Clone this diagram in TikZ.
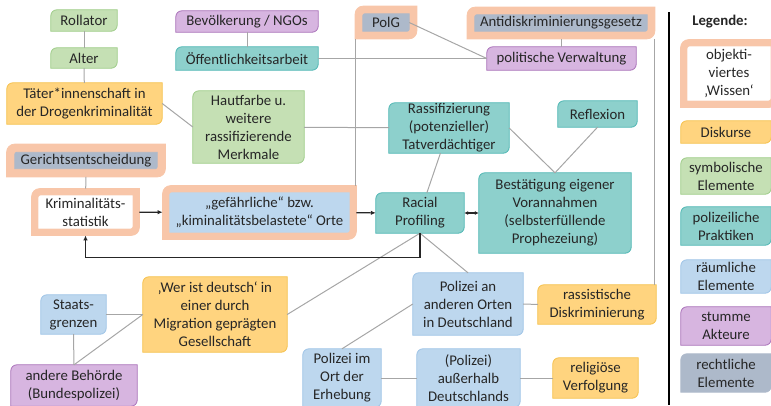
\documentclass[tikz,border=0pt]{standalone}
\usepackage{fontspec}
\setmainfont{Carlito}
\usetikzlibrary{fit,backgrounds,arrows.meta}

\definecolor{gruen}{HTML}{C5E0B4}
\definecolor{gruenR}{HTML}{9CCB86}
\definecolor{lila}{HTML}{D7B5E0}
\definecolor{lilaR}{HTML}{A86FB8}
\definecolor{tuerkis}{HTML}{8DD0CC}
\definecolor{tuerkisR}{HTML}{4DB6B3}
\definecolor{hblau}{HTML}{BDD7EE}
\definecolor{hblauR}{HTML}{9DC3E6}
\definecolor{orange}{HTML}{FFD47F}
\definecolor{orangeR}{HTML}{F5C04A}
\definecolor{grau}{HTML}{ADB9CA}
\definecolor{lachs}{HTML}{F8C6A9}
\definecolor{linie}{HTML}{A6A6A6}

\newcommand{\kasten}[4]{%
  \path[fill=#2,draw=#3,line width=0.8pt] (#1.south west)
    -- ([yshift=-#4]#1.north west) arc[start angle=180,end angle=90,radius=#4]
    -- (#1.north east)
    -- ([yshift=#4]#1.south east) arc[start angle=0,end angle=-90,radius=#4]
    -- cycle;}

\tikzset{
  box/.style={inner sep=0pt,align=center,text=black!85,
    font=\fontsize{14.8}{18}\selectfont},
  rahmen/.style={inner sep=7.5pt},
  verb/.style={draw=linie,line width=1pt},
  pfeil/.style={draw=black!85,line width=1.2pt,-{Latex[length=5pt,width=4.5pt]}},
}

\begin{document}
\begin{tikzpicture}[x=1pt,y=-1pt]
\useasboundingbox (0,0) rectangle (771,405);

\node[box,minimum width=66,minimum height=21] (rollator) at (84,20.5) {Rollator};
\node[box,minimum width=66,minimum height=20] (alter) at (84,58) {Alter};
\node[box,minimum width=155,minimum height=41] (taeter) at (84.5,103.5) {Täter*innenschaft in\\der Drogenkriminalität};
\node[box,minimum width=142,minimum height=21] (bevoelk) at (247,21.5) {Bevölkerung / NGOs};
\node[box,minimum width=142,minimum height=23] (oeffentl) at (247,58.5) {Öffentlichkeitsarbeit};
\node[box,minimum width=111,minimum height=72] (haut) at (248.5,127) {Hautfarbe u.\\weitere\\rassifizierende\\Merkmale};
\node[box,minimum width=46,minimum height=17] (polg) at (386,22.5) {PolG};
\node[rahmen,fit=(polg)] (polgR) {};
\node[box,minimum width=172,minimum height=16] (anti) at (561,23) {Antidiskriminierungsgesetz};
\node[rahmen,fit=(anti)] (antiR) {};
\node[box,minimum width=149,minimum height=23] (polver) at (561.5,58.5) {politische Verwaltung};
\node[box,minimum width=120,minimum height=50] (rassif) at (449,128) {Rassifizierung\\(potenzieller)\\Tatverdächtiger};
\node[box,minimum width=79,minimum height=26] (reflex) at (597.5,114) {Reflexion};
\node[box,minimum width=152,minimum height=80] (bestaet) at (555,213) {Bestätigung eigener\\Vorannahmen\\(selbsterfüllende\\Prophezeiung)};
\node[box,minimum width=88,minimum height=40] (racial) at (420,213) {Racial\\Profiling};
\node[box,minimum width=142,minimum height=16] (gericht) at (86,160.5) {Gerichtsentscheidung};
\node[rahmen,inner sep=8pt,fit=(gericht)] (gerichtR) {};
\node[box,minimum width=93,minimum height=32] (krim) at (85.5,212) {Kriminalitäts-\\statistik};
\node[rahmen,inner sep=7pt,fit=(krim)] (krimR) {};
\node[box,minimum width=179,minimum height=39] (gef) at (259.5,212.5) {„gefährliche“ bzw.\\„kiminalitätsbelastete“ Orte};
\node[rahmen,inner sep=7pt,fit=(gef)] (gefR) {};
\node[box,minimum width=65,minimum height=39] (staat) at (73.5,314.5) {Staats-\\grenzen};
\node[box,minimum width=144,minimum height=75] (wer) at (215,314.5) {‚Wer ist deutsch‘ in\\einer durch\\Migration geprägten\\Gesellschaft};
\node[box,minimum width=126,minimum height=41] (andere) at (74,385.5) {andere Behörde\\(Bundespolizei)};
\node[box,minimum width=110,minimum height=62] (polAnd) at (468,304) {Polizei an\\anderen Orten\\in Deutschland};
\node[box,minimum width=118,minimum height=39] (rassist) at (597,304.5) {rassistische\\Diskriminierung};
\node[box,minimum width=78,minimum height=58] (imOrt) at (342,378) {Polizei im\\Ort der\\Erhebung};
\node[box,minimum width=103,minimum height=58] (ausser) at (468.5,378) {(Polizei)\\außerhalb\\Deutschlands};
\node[box,minimum width=85,minimum height=40] (relig) at (595.5,378) {religiöse\\Verfolgung};

% Legende
\coordinate (legOben) at (669,12);
\coordinate (legUnten) at (669,405);
\node[box,font=\fontsize{14.8}{18}\selectfont\bfseries] (legTitel) at (720,22) {Legende:};
\node[box,minimum width=82,minimum height=53] (legWissen) at (729,73.5) {objekti-\\viertes\\‚Wissen‘};
\node[rahmen,inner sep=7pt,fit=(legWissen)] (legWissenR) {};
\node[box,minimum width=90,minimum height=22] (legDisk) at (726,132) {Diskurse};
\node[box,minimum width=90,minimum height=36] (legSymb) at (726,176) {symbolische\\Elemente};
\node[box,minimum width=90,minimum height=38] (legPol) at (726,226) {polizeiliche\\Praktiken};
\node[box,minimum width=90,minimum height=33] (legRaum) at (726,276.5) {räumliche\\Elemente};
\node[box,minimum width=90,minimum height=38] (legStumm) at (726,326) {stumme\\Akteure};
\node[box,minimum width=90,minimum height=38] (legRecht) at (726,373) {rechtliche\\Elemente};

\begin{pgfonlayer}{background}
\foreach \n in {polgR,antiR,gerichtR,krimR,gefR,legWissenR}
  \kasten{\n}{lachs}{lachs}{8pt};
\foreach \n/\f/\r in {rollator/gruen/gruenR, alter/gruen/gruenR, haut/gruen/gruenR,
    legSymb/gruen/gruenR, bevoelk/lila/lilaR, andere/lila/lilaR, legStumm/lila/lilaR,
    oeffentl/tuerkis/tuerkisR, rassif/tuerkis/tuerkisR, reflex/tuerkis/tuerkisR,
    bestaet/tuerkis/tuerkisR, racial/tuerkis/tuerkisR, legPol/tuerkis/tuerkisR,
    staat/hblau/hblauR, polAnd/hblau/hblauR, imOrt/hblau/hblauR, ausser/hblau/hblauR,
    legRaum/hblau/hblauR, taeter/orange/orangeR, wer/orange/orangeR,
    rassist/orange/orangeR, relig/orange/orangeR, legDisk/orange/orangeR,
    polver/lila/lilaR, legRecht/grau/grau}
  \kasten{\n}{\f}{\r}{6pt};
\foreach \n/\f in {polg/grau, anti/grau, gericht/grau, krim/white, gef/hblau, legWissen/white}
  \kasten{\n}{\f}{\f}{2pt};
\end{pgfonlayer}

\draw[verb] (rollator) -- (alter);
\draw[verb] (alter) -- (taeter);
\draw[verb] (bevoelk) -- (oeffentl);
\draw[verb] (oeffentl) -- (polver);
\draw[verb] (polg.east) -- (polver.west);
\draw[verb] (polver.north) -- (polver.north |- antiR.south);
\draw[verb] (polgR.south west) -- (polgR.south west |- gefR.north);
\draw[verb] (antiR.south east) -- (antiR.south east |- rassist.north);
\draw[verb] (taeter.east) -- (haut.west);
\draw[verb] (haut) -- (rassif);
\draw[verb] (rassif) -- (racial);
\draw[verb] (rassif.east) -- (bestaet.north);
\draw[verb] (reflex.south) -- (bestaet.north);
\draw[verb] (gerichtR) -- (krimR);
\draw[verb] (wer.east) -- (racial.south);
\draw[verb] (racial.south) -- (polAnd.north);
\draw[verb] (polAnd) -- (rassist);
\draw[verb] (imOrt.north) -- (polAnd.west);
\draw[verb] (imOrt) -- (ausser);
\draw[verb] (ausser) -- (relig);
\draw[verb] (staat) -- (wer);
\draw[verb] (staat) -- (andere);
\draw[verb] (andere.north) -- (wer.west);

\draw[pfeil] (krimR) -- (gefR);
\draw[pfeil] (gefR) -- (racial);
\draw[pfeil,{Latex[length=4pt,width=4pt]}-{Latex[length=4pt,width=4pt]}] (racial) -- (bestaet);
\draw[pfeil] (racial.south) -- ++(0,24) -| (krimR.south);

\draw[black,line width=1.5pt] (legOben) -- (legUnten);
\end{tikzpicture}
\end{document}
